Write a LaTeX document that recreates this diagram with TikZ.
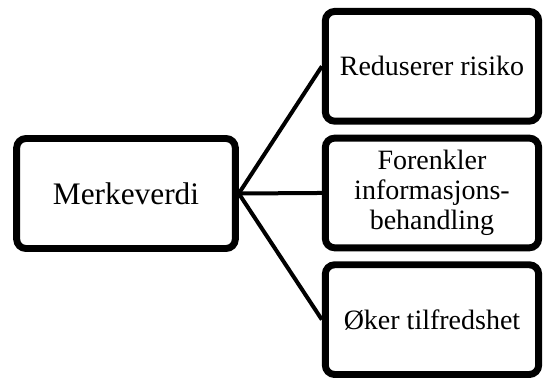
\documentclass[tikz,border=0pt]{standalone}
\usepackage{fontspec}
\setmainfont{Liberation Serif}
\usetikzlibrary{positioning,shadows}

\begin{document}
\begin{tikzpicture}[%
    x=0.75pt, y=-0.75pt,          % work in pixels of the reference, y downwards
    node distance=7.5pt,          % gap between the boxes on the right
    every join/.style={norm},
    ]
% -------------------------------------------------
% Box and line styles
\tikzset{
  base/.style={draw, line width=5.2pt, rounded corners=7pt, fill=white,
    align=center,
    drop shadow={opacity=0.25, shadow xshift=1.2pt, shadow yshift=-1.5pt}},
  root/.style={base, minimum width=164pt, minimum height=82.5pt,
    font=\fontsize{23.5}{26}\selectfont},
  leaf/.style={base, minimum width=160pt, minimum height=82.3pt,
    font=\fontsize{21}{22.5}\selectfont},
  norm/.style={draw, line width=3pt}
}
\useasboundingbox (0,0) rectangle (544,379);
% -------------------------------------------------
% Place the nodes
\node [root] (verdi) at (126,193.5) {Merkeverdi};
\node [leaf] (risiko) at (432,66.3) {Reduserer risiko};
\node [leaf, below=of risiko] (info) {Forenkler\\informasjons-\\behandling};
\node [leaf, below=of info] (tilfreds) {Øker tilfredshet};

% Connectors from the root to each box
\foreach \n in {risiko, info, tilfreds}
  \draw [norm] (verdi.east) -- (\n.west);
% -------------------------------------------------
\end{tikzpicture}
\end{document}
